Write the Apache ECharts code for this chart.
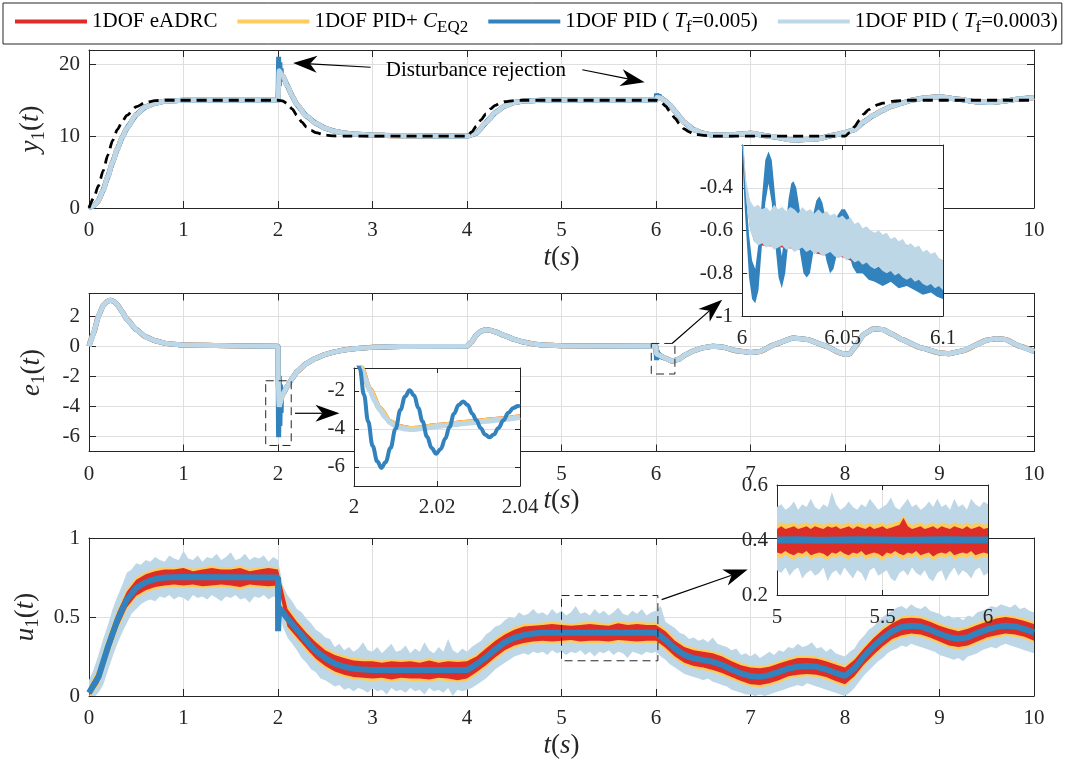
<!DOCTYPE html>
<html><head><meta charset="utf-8">
<script src="https://cdn.jsdelivr.net/npm/echarts@6/dist/echarts.min.js"></script>
<style>html,body{margin:0;padding:0;background:#fff}#c{width:1073px;height:760px}</style>
</head><body><div id="c"></div>
<script>
// ---------------- DATA ----------------
const seriesNames = ['1DOF eADRC', '1DOF PID+ C_EQ2', '1DOF PID ( T_f=0.005)', '1DOF PID ( T_f=0.0003)'];

// y1(t): reference (dashed) and outputs
const y1Ref = [[0,0],[0.05,1.4],[0.1,3.1],[0.15,5.2],[0.2,7.4],[0.25,9.4],[0.3,10.9],[0.35,12.0],[0.4,12.9],[0.5,14.1],[0.6,14.7],[0.7,14.95],[0.8,15],[2,15],[2.05,14.9],[2.1,14.5],[2.15,13.8],[2.2,12.9],[2.25,12.0],[2.3,11.3],[2.35,10.8],[2.4,10.5],[2.5,10.15],[2.6,10.03],[2.7,10],[4,10],[4.05,10.6],[4.1,11.4],[4.15,12.3],[4.2,13.1],[4.25,13.8],[4.3,14.3],[4.35,14.6],[4.4,14.8],[4.5,14.95],[4.6,15],[6,15],[6.05,14.8],[6.1,14.2],[6.15,13.4],[6.2,12.5],[6.25,11.7],[6.3,11.0],[6.35,10.6],[6.4,10.3],[6.5,10.1],[6.6,10],[8,10],[8.05,10.5],[8.1,11.3],[8.15,12.2],[8.2,13.1],[8.25,13.7],[8.3,14.1],[8.35,14.4],[8.4,14.6],[8.5,14.85],[8.6,14.95],[8.7,15],[10,15]];
const y1Out = [[0,0],[0.05,0.3],[0.1,1.0],[0.15,2.5],[0.2,4.4],[0.25,6.4],[0.3,8.2],[0.35,9.8],[0.4,11.1],[0.5,13.0],[0.6,14.1],[0.7,14.6],[0.8,14.85],[0.9,14.95],[1,15],[2,15],[2.012,19.1],[2.05,18.4],[2.1,17.0],[2.15,15.6],[2.2,14.4],[2.3,12.8],[2.4,11.8],[2.5,11.1],[2.6,10.7],[2.7,10.45],[2.8,10.3],[3,10.15],[3.3,10.05],[4,10],[4.1,10.4],[4.2,11.9],[4.3,13.3],[4.4,14.2],[4.5,14.7],[4.6,14.9],[4.8,15],[6,15],[6.01,15.4],[6.05,15.3],[6.1,14.9],[6.15,14.3],[6.2,13.5],[6.25,12.7],[6.3,11.9],[6.4,10.9],[6.5,10.4],[6.6,10.15],[6.8,10.2],[7,10.4],[7.2,10.0],[7.45,9.45],[7.7,9.6],[7.9,10.2],[8,10.5],[8.1,10.9],[8.2,12.0],[8.3,12.9],[8.4,13.6],[8.5,14.2],[8.6,14.6],[8.7,15.0],[8.85,15.35],[9,15.5],[9.2,15.15],[9.4,14.75],[9.55,14.7],[9.7,14.9],[9.85,15.2],[10,15.4]];
const y1BlueAt2 = [[2.0014,15.85],[2.0066,21.05],[2.0134,16.97],[2.0196,20.3],[2.0263,17.56],[2.0326,19.44],[2.0395,17.8]];
const y1BlueAt6 = [[6.0066,15.93],[6.0132,15.27],[6.0198,15.83],[6.0256,15.42],[6.0322,15.79],[6.0385,15.49],[6.0438,15.76]];

// e1(t)
const e1Out = [[0,0],[0.05,0.9],[0.1,2.0],[0.15,2.7],[0.2,3.0],[0.23,3.05],[0.27,2.95],[0.3,2.75],[0.35,2.3],[0.4,1.8],[0.5,1.1],[0.6,0.62],[0.7,0.36],[0.8,0.2],[0.9,0.12],[1,0.08],[1.5,0.03],[2,0],[2.002,-2.0],[2.006,-3.0],[2.009,-3.7],[2.0135,-4.02],[2.02,-3.85],[2.028,-3.68],[2.04,-3.38],[2.06,-3.1],[2.1,-2.65],[2.15,-2.15],[2.2,-1.7],[2.3,-1.15],[2.4,-0.8],[2.5,-0.55],[2.6,-0.38],[2.7,-0.25],[2.8,-0.17],[3,-0.08],[3.3,-0.03],[4,0],[4.05,0.3],[4.1,0.75],[4.15,1.0],[4.2,1.1],[4.25,1.05],[4.3,0.95],[4.4,0.7],[4.5,0.45],[4.6,0.27],[4.7,0.15],[4.8,0.08],[5,0.03],[6,0],[6.003,-0.5],[6.01,-0.6],[6.05,-0.65],[6.1,-0.8],[6.17,-1.0],[6.25,-0.85],[6.3,-0.6],[6.4,-0.3],[6.5,-0.1],[6.6,0],[6.7,-0.05],[6.85,-0.3],[7,-0.42],[7.1,-0.35],[7.25,0.1],[7.45,0.55],[7.6,0.45],[7.8,0.0],[7.95,-0.45],[8,-0.55],[8.05,-0.5],[8.1,-0.1],[8.2,0.8],[8.3,1.15],[8.4,1.1],[8.5,0.8],[8.6,0.45],[8.8,-0.1],[9,-0.45],[9.1,-0.5],[9.25,-0.3],[9.5,0.4],[9.6,0.5],[9.7,0.45],[9.85,0.0],[10,-0.35]];
const e1BlueAt2 = [[2.0008,-0.3],[2.0014,-0.85],[2.0024,-2.2],[2.0034,-3.6],[2.0045,-4.9],[2.0056,-5.7],[2.0066,-6.05],[2.0076,-5.75],[2.0088,-5.0],[2.01,-4.0],[2.0112,-3.0],[2.0123,-2.3],[2.0134,-1.97],[2.0145,-2.25],[2.0155,-2.9],[2.0165,-3.6],[2.0176,-4.4],[2.0187,-5.0],[2.0198,-5.3],[2.0209,-5.05],[2.022,-4.5],[2.023,-3.9],[2.0241,-3.2],[2.0252,-2.75],[2.0263,-2.56],[2.0274,-2.75],[2.0285,-3.2],[2.0295,-3.55],[2.0305,-3.95],[2.0316,-4.3],[2.0326,-4.44],[2.0337,-4.3],[2.0348,-3.95],[2.036,-3.55],[2.0372,-3.15],[2.0384,-2.9],[2.0395,-2.8],[2.04,-2.82]];
const e1BlueAt6 = [[6.0015,-0.45],[6.0066,-0.93],[6.0132,-0.27],[6.0198,-0.83],[6.0256,-0.42],[6.0322,-0.79],[6.0385,-0.49],[6.0438,-0.76],[6.0512,-0.55],[6.057,-0.72]];
// inset 2 (t = 2 .. 2.04)
const e1LightIn2 = [[2.0004,-0.3],[2.0018,-0.85],[2.0028,-1.4],[2.0038,-1.97],[2.005,-2.55],[2.0062,-3.0],[2.0075,-3.38],[2.0087,-3.68],[2.01,-3.85],[2.0111,-3.95],[2.0125,-4.01],[2.0135,-4.03],[2.015,-4.02],[2.0175,-3.95],[2.02,-3.87],[2.024,-3.78],[2.028,-3.69],[2.032,-3.6],[2.036,-3.5],[2.04,-3.4]];
const e1YellowIn2 = [[2.0004,-0.3],[2.0018,-0.8],[2.0038,-1.9],[2.0062,-2.92],[2.0087,-3.62],[2.0111,-3.89],[2.0135,-3.98],[2.015,-3.97],[2.02,-3.82],[2.028,-3.64],[2.036,-3.46],[2.04,-3.36]];
// inset 1 (t = 6 .. 6.1), noisy bands, light blue sampled every 0.002
const in1Step = 0.002;
const in1LightHi = [-.10,-.36,-.46,-.49,-.48,-.50,-.49,-.51,-.48,-.50, -.49,-.51,-.49,-.50,-.52,-.49,-.51,-.50,-.52,-.50, -.52,-.51,-.53,-.52,-.54,-.53,-.55,-.54,-.57,-.56, -.59,-.58,-.60,-.61,-.60,-.62,-.61,-.64,-.63,-.65, -.64,-.67,-.66,-.68,-.67,-.70,-.69,-.71,-.70,-.73, -.74];
const in1LightLo = [-.15,-.45,-.60,-.65,-.67,-.66,-.68,-.67,-.69,-.68, -.67,-.69,-.68,-.70,-.69,-.68,-.70,-.69,-.71,-.70, -.72,-.71,-.70,-.72,-.73,-.72,-.74,-.73,-.75,-.74, -.76,-.75,-.77,-.78,-.77,-.79,-.80,-.79,-.81,-.80, -.82,-.83,-.82,-.84,-.83,-.85,-.86,-.85,-.87,-.86, -.88];
const in1RedT  = [6,6.002,6.004,6.006,6.01,6.02,6.03,6.04,6.05,6.06,6.07,6.08,6.09,6.1];
const in1RedHi = [-0.12,-0.38,-0.47,-0.50,-0.52,-0.51,-0.52,-0.53,-0.55,-0.6,-0.63,-0.66,-0.7,-0.74];
const in1RedLo = [-0.16,-0.44,-0.59,-0.65,-0.67,-0.68,-0.69,-0.715,-0.725,-0.765,-0.795,-0.825,-0.855,-0.885];
const in1BlueT  = [6.000,6.0015,6.0035,6.0050,6.0066,6.0082,6.0100,6.0116,6.0132,6.0148,6.0165,6.0182,6.0198,6.0215,6.0232,6.0245,6.0256,6.0270,6.0290,6.0306,6.0322,6.0338,6.0355,6.0370,6.0385,6.0400,6.0420,6.0438,6.0455,6.0475,6.0495,6.0512,6.0530,6.0550,6.0570,6.0600,6.0630,6.0660,6.0700,6.0720,6.0740,6.0780,6.0820,6.0860,6.0900,6.0940,6.0970,6.1000];
const in1BlueHi = [-0.10,-0.36,-0.62,-0.74,-0.78,-0.66,-0.44,-0.27,-0.23,-0.27,-0.44,-0.62,-0.72,-0.60,-0.45,-0.38,-0.37,-0.40,-0.52,-0.63,-0.68,-0.62,-0.52,-0.46,-0.44,-0.47,-0.56,-0.64,-0.60,-0.53,-0.50,-0.50,-0.53,-0.58,-0.62,-0.63,-0.65,-0.67,-0.69,-0.70,-0.72,-0.73,-0.75,-0.77,-0.78,-0.80,-0.81,-0.82];
const in1BlueLo = [-0.22,-0.52,-0.82,-0.92,-0.94,-0.88,-0.66,-0.47,-0.38,-0.47,-0.66,-0.82,-0.87,-0.80,-0.64,-0.55,-0.51,-0.57,-0.71,-0.80,-0.82,-0.80,-0.70,-0.62,-0.58,-0.64,-0.74,-0.80,-0.78,-0.70,-0.66,-0.64,-0.70,-0.77,-0.80,-0.80,-0.83,-0.84,-0.86,-0.85,-0.84,-0.87,-0.86,-0.88,-0.90,-0.89,-0.91,-0.92];

// u1(t): noisy envelopes. light blue every 0.05 s, red / yellow every 0.1 s
const uLightStep = 0.05;
const uLightHi = [.10,.17,.26,.36,.45,.55,.63,.70,.78,.80, .84,.83,.86,.85,.88,.86,.85,.89,.87,.86, .92,.87,.86,.89,.85,.88,.87,.90,.86,.88, .91,.86,.87,.90,.86,.88,.87,.89,.85,.88, .86,.70,.64,.60,.55,.53,.49,.46,.42,.40, .37,.36,.31,.33,.29,.31,.28,.30,.34,.29, .28,.31,.27,.30,.33,.28,.29,.32,.27,.30, .28,.34,.29,.27,.31,.28,.36,.29,.27,.30, .28,.31,.33,.35,.39,.41,.44,.45,.48,.50, .49,.53,.51,.52,.55,.52,.53,.51,.55,.52, .54,.51,.53,.57,.52,.53,.51,.55,.52,.54, .51,.53,.56,.52,.51,.54,.52,.55,.51,.53, .54,.57,.47,.45,.43,.40,.39,.36,.37,.35, .36,.34,.37,.33,.32,.31,.29,.30,.26,.27, .25,.27,.24,.26,.28,.26,.29,.28,.31,.30, .33,.31,.32,.34,.30,.31,.28,.30,.27,.26, .25,.28,.30,.35,.38,.42,.44,.47,.50,.52, .54,.56,.57,.55,.58,.56,.55,.57,.54,.53, .52,.50,.51,.49,.50,.48,.51,.50,.53,.54, .55,.57,.56,.58,.57,.56,.58,.55,.56,.54, .53];
const uLightLo = [-.02,-.01,.02,.07,.16,.25,.33,.40,.46,.52, .55,.58,.60,.61,.60,.63,.62,.64,.61,.63, .62,.60,.64,.62,.63,.61,.64,.62,.60,.63, .62,.64,.61,.62,.59,.63,.62,.64,.61,.63, .62,.44,.37,.33,.29,.24,.21,.17,.15,.11, .10,.08,.06,.07,.04,.05,.03,.05,.04,.02, .05,.03,.04,.01,.05,.03,.04,.02,.05,.03, .04,.01,.05,.03,.04,.02,.05,.00,.04,.03, .04,.05,.07,.09,.11,.14,.17,.19,.21,.23, .25,.26,.27,.26,.28,.27,.28,.26,.29,.27, .28,.26,.28,.27,.29,.26,.28,.25,.28,.27, .29,.26,.28,.27,.24,.28,.27,.26,.28,.27, .28,.25,.23,.20,.18,.16,.14,.13,.12,.11, .10,.11,.09,.08,.07,.06,.04,.03,.02,.01, .01,.00,.01,.00,.01,.02,.03,.04,.05,.06, .07,.06,.08,.07,.06,.05,.04,.03,.02,.01, .00,.02,.05,.09,.13,.16,.19,.22,.24,.27, .29,.30,.32,.31,.33,.32,.31,.30,.29,.28, .26,.25,.24,.23,.24,.22,.25,.26,.27,.29, .30,.31,.30,.32,.33,.32,.31,.30,.29,.28, .27];
const uBandStep = 0.1;
const uRedHi = [.05,.16,.36,.53,.66,.735,.77,.79,.80,.80, .81,.79,.80,.81,.80,.80,.81,.79,.80,.81, .80,.55,.47,.40,.34,.29,.26,.24,.225,.22, .22,.21,.22,.215,.22,.21,.225,.21,.22,.215, .22,.25,.30,.35,.39,.42,.44,.445,.45,.455, .45,.445,.45,.455,.45,.445,.46,.45,.455,.45, .45,.41,.35,.31,.29,.28,.27,.25,.22,.195, .18,.175,.185,.205,.225,.24,.24,.235,.22,.20, .18,.23,.30,.365,.42,.46,.49,.495,.49,.47, .445,.425,.41,.425,.45,.47,.49,.50,.49,.475, .455];
const uRedLo = [.00,.08,.26,.43,.56,.635,.67,.69,.70,.705, .70,.705,.695,.70,.705,.70,.69,.705,.70,.695, .70,.44,.37,.30,.235,.19,.155,.135,.12,.115, .11,.115,.105,.115,.11,.11,.105,.115,.11,.10, .11,.15,.195,.245,.29,.32,.335,.345,.35,.345, .35,.355,.345,.35,.35,.345,.355,.35,.345,.35, .35,.305,.25,.21,.19,.18,.165,.145,.12,.095, .075,.07,.08,.10,.125,.135,.14,.135,.12,.095, .075,.125,.20,.26,.315,.36,.385,.395,.39,.37, .345,.32,.31,.32,.345,.37,.385,.395,.39,.375, .35];
const uYelHi = [.06,.18,.38,.545,.675,.75,.785,.805,.815,.815, .82,.805,.815,.825,.815,.815,.825,.805,.815,.82, .815,.57,.485,.415,.355,.305,.275,.255,.24,.235, .235,.225,.235,.23,.235,.225,.24,.225,.235,.23, .235,.265,.315,.365,.405,.435,.455,.46,.465,.47, .465,.46,.465,.47,.465,.46,.475,.465,.47,.465, .465,.425,.365,.325,.305,.295,.285,.265,.235,.21, .195,.19,.20,.22,.24,.255,.255,.25,.235,.215, .195,.245,.315,.38,.435,.475,.505,.51,.505,.485, .46,.44,.425,.44,.465,.485,.505,.515,.505,.49, .47];
const uYelLo = [-.01,.065,.245,.415,.545,.62,.655,.675,.685,.69, .685,.69,.68,.685,.69,.685,.675,.69,.685,.68, .685,.425,.355,.285,.22,.175,.14,.12,.105,.10, .095,.10,.09,.10,.095,.095,.09,.10,.095,.085, .095,.135,.18,.23,.275,.305,.32,.33,.335,.33, .335,.34,.33,.335,.335,.33,.34,.335,.33,.335, .335,.29,.235,.195,.175,.165,.15,.13,.105,.08, .06,.055,.065,.085,.11,.12,.125,.12,.105,.08, .06,.11,.185,.245,.30,.345,.37,.38,.375,.355, .33,.305,.295,.305,.33,.355,.37,.38,.375,.36, .335];
const uBlue = [[0,0.02],[0.1,0.12],[0.2,0.31],[0.3,0.48],[0.4,0.61],[0.5,0.685],[0.6,0.72],[0.7,0.74],[0.8,0.75],[1,0.753],[1.5,0.752],[2,0.75],[2.001,0.41],[2.012,0.56],[2.05,0.53],[2.1,0.49],[2.2,0.42],[2.3,0.35],[2.4,0.285],[2.5,0.24],[2.6,0.205],[2.7,0.185],[2.8,0.173],[2.9,0.167],[3,0.164],[4,0.164],[4.1,0.2],[4.2,0.245],[4.3,0.295],[4.4,0.34],[4.5,0.368],[4.6,0.386],[4.7,0.396],[4.8,0.4],[6,0.4],[6.1,0.355],[6.2,0.3],[6.3,0.26],[6.4,0.238],[6.5,0.228],[6.6,0.217],[6.7,0.196],[6.8,0.168],[6.9,0.143],[7,0.126],[7.1,0.121],[7.2,0.132],[7.3,0.153],[7.4,0.174],[7.5,0.185],[7.6,0.19],[7.7,0.185],[7.8,0.168],[7.9,0.147],[8,0.128],[8.1,0.175],[8.2,0.25],[8.3,0.313],[8.4,0.366],[8.5,0.41],[8.6,0.436],[8.7,0.445],[8.8,0.44],[8.9,0.42],[9,0.394],[9.1,0.372],[9.2,0.362],[9.3,0.372],[9.4,0.398],[9.5,0.42],[9.6,0.436],[9.7,0.445],[9.8,0.44],[9.9,0.423],[10,0.402]];
// inset 3 (t = 5 .. 6), sampled every 0.02
const in3Step = 0.02;
const in3LightHi = [.52,.53,.51,.52,.54,.51,.53,.52,.55,.52, .51,.53,.52,.575,.53,.51,.52,.54,.52,.51, .53,.52,.55,.53,.51,.52,.53,.555,.52,.51, .53,.55,.52,.53,.51,.52,.54,.52,.55,.52, .53,.51,.55,.52,.53,.51,.55,.53,.52,.54, .53];
const in3LightLo = [.29,.28,.30,.27,.29,.30,.26,.28,.29,.27, .28,.30,.25,.28,.29,.27,.30,.28,.26,.29, .28,.25,.29,.30,.27,.28,.29,.26,.25,.28, .29,.27,.30,.28,.27,.29,.26,.25,.28,.29, .25,.28,.30,.27,.29,.28,.26,.29,.30,.27, .28];
const in3RedHi = [.44,.45,.44,.445,.45,.44,.445,.45,.44,.45, .445,.44,.45,.445,.45,.44,.445,.45,.44,.45, .445,.44,.45,.44,.445,.45,.44,.445,.45,.455, .48,.45,.44,.445,.45,.44,.445,.45,.44,.45, .445,.44,.45,.445,.44,.45,.44,.445,.45,.44, .445];
const in3RedLo = [.355,.35,.36,.35,.345,.355,.35,.36,.345,.35, .355,.35,.34,.355,.35,.36,.35,.345,.355,.35, .36,.345,.35,.355,.35,.34,.355,.35,.36,.35, .345,.355,.35,.36,.345,.35,.355,.34,.35,.355, .35,.36,.345,.35,.355,.35,.36,.345,.35,.355, .35];
const in3YelHi = [.455,.465,.46,.46,.465,.455,.46,.465,.455,.465, .46,.455,.465,.46,.465,.455,.46,.465,.455,.465, .46,.455,.465,.455,.46,.465,.455,.46,.465,.47, .49,.465,.455,.46,.465,.455,.46,.465,.455,.465, .46,.455,.465,.46,.455,.465,.455,.46,.465,.455, .46];
const in3YelLo = [.34,.335,.345,.335,.33,.34,.335,.345,.33,.335, .34,.335,.325,.34,.335,.345,.335,.33,.34,.335, .345,.33,.335,.34,.335,.325,.34,.335,.345,.335, .33,.34,.335,.345,.33,.335,.34,.325,.335,.34, .335,.345,.33,.335,.34,.335,.345,.33,.335,.34, .335];
const in3Blue = [[5,0.4],[5.1,0.401],[5.2,0.399],[5.3,0.4],[5.4,0.401],[5.5,0.4],[5.6,0.399],[5.7,0.4],[5.8,0.401],[5.9,0.4],[6,0.4]];

// annotations (data coordinates of the panel they sit in)
const arrows = [
  {x:0, y:0, from:[2.98,19.6], to:[2.16,20.2]},
  {x:0, y:0, from:[5.22,19.25], to:[5.88,17.5]},
  {x:2, y:2, from:[2.18,-4.46], to:[2.65,-4.46]},
  {x:2, y:2, from:[6.17,0.18], to:[6.70,3.09]},
  {x:4, y:4, from:[6.06,0.61], to:[6.97,0.80]}
];
const zoomBoxes = [
  {x:2, y:2, t:[1.87,2.14], v:[-6.6,-2.3]},
  {x:2, y:2, t:[5.95,6.2], v:[-1.85,0.18]},
  {x:4, y:4, t:[5.0,6.02], v:[0.223,0.636]}
];
const annotText = {x:0, y:0, at:[3.14,19.2], text:'Disturbance rejection'};

// ---------------- CHART ----------------
const FONT = 'Liberation Serif';
const AX = '#262626', GL = '#DFDFDF';
const COL = ['#DE2D26', '#FECC5C', '#3182BD', '#BDD7E7'];
const RICH = {
  i:{fontFamily:FONT, fontSize:27, fontStyle:'italic', color:AX},
  n:{fontFamily:FONT, fontSize:27, color:AX},
  s:{fontFamily:FONT, fontSize:19, color:AX, padding:[15,0,0,0]}
};
const TRICH = {a:{fontFamily:FONT, fontSize:21, color:AX}};
const LRICH = {
  n:{fontFamily:FONT, fontSize:21, color:'#000'},
  i:{fontFamily:FONT, fontSize:21, fontStyle:'italic', color:'#000'},
  s:{fontFamily:FONT, fontSize:17, color:'#000', padding:[12,0,0,0]}
};
const legendText = {
  '1DOF eADRC':'{n|1DOF eADRC}',
  '1DOF PID+ C_EQ2':'{n|1DOF PID+ }{i|C}{s|EQ2}',
  '1DOF PID ( T_f=0.005)':'{n|1DOF PID ( }{i|T}{s|f}{n|=0.005)}',
  '1DOF PID ( T_f=0.0003)':'{n|1DOF PID ( }{i|T}{s|f}{n|=0.0003)}'
};

const grids = [
  {left:89, top:50, width:945, height:158},
  {left:89, top:293.5, width:945, height:158},
  {left:89, top:538, width:945, height:158},
  {left:742, top:145, width:201, height:171, z:10, show:true, backgroundColor:'#fff', borderWidth:0},
  {left:354, top:368, width:166, height:118, z:10, show:true, backgroundColor:'#fff', borderWidth:0},
  {left:777, top:485, width:211, height:110, z:10, show:true, backgroundColor:'#fff', borderWidth:0}
];

function allowFmt(list) {
  return v => { const a = list.find(q => Math.abs(q - v) < 1e-9); return a === undefined ? '' : '{a|' + String(a) + '}'; };
}
const xAxes = [], yAxes = [];
function addAxes(g, xo, yo, z, tick) {
  const line = {onZero:false, lineStyle:{color:AX, width:1}};
  const tk = {inside:true, length:tick, lineStyle:{color:AX}};
  const lab = (m, f) => ({fontFamily:FONT, fontSize:21, color:AX, margin:m, formatter:f, rich:TRICH});
  xAxes.push({type:'value', gridIndex:g, position:'bottom', z, min:xo.min, max:xo.max, interval:xo.interval,
    axisLine:line, axisTick:tk, axisLabel:lab(xo.margin, xo.fmt), splitLine:{show:true, lineStyle:{color:GL}},
    name:xo.name || '', nameLocation:'middle', nameGap:xo.nameGap || 0, nameTextStyle:{rich:RICH}});
  xAxes.push({type:'value', gridIndex:g, position:'top', z, min:xo.min, max:xo.max, interval:xo.interval,
    axisLine:line, axisTick:tk, axisLabel:{show:false}, splitLine:{show:false}});
  yAxes.push({type:'value', gridIndex:g, position:'left', z, min:yo.min, max:yo.max, interval:yo.interval, splitNumber:yo.split,
    axisLine:line, axisTick:tk, axisLabel:lab(yo.margin, yo.fmt), splitLine:{show:true, lineStyle:{color:GL}},
    name:yo.name || '', nameLocation:'middle', nameGap:yo.nameGap || 0, nameRotate:90, nameTextStyle:{rich:RICH}});
  yAxes.push({type:'value', gridIndex:g, position:'right', z, min:yo.min, max:yo.max, interval:yo.interval, splitNumber:yo.split,
    axisLine:line, axisTick:tk, axisLabel:{show:false}, splitLine:{show:false}});
}
const tName = '{i|t}{n|(}{i|s}{n|)}';
const xMain = [0,1,2,3,4,5,6,7,8,9,10];
addAxes(0, {min:0,max:10,interval:1,margin:12,fmt:allowFmt(xMain),name:tName,nameGap:36},
           {min:0,max:22,interval:10,margin:9,fmt:allowFmt([0,10,20]),name:'{i|y}{s|1}{n|(}{i|t}{n|)}',nameGap:40}, 0, 7);
addAxes(1, {min:0,max:10,interval:1,margin:12,fmt:allowFmt(xMain),name:tName,nameGap:36},
           {min:-7,max:3.5,split:5,margin:9,fmt:allowFmt([-6,-4,-2,0,2]),name:'{i|e}{s|1}{n|(}{i|t}{n|)}',nameGap:40}, 0, 7);
addAxes(2, {min:0,max:10,interval:1,margin:12,fmt:allowFmt(xMain),name:tName,nameGap:36},
           {min:0,max:1,interval:0.5,margin:9,fmt:allowFmt([0,0.5,1]),name:'{i|u}{s|1}{n|(}{i|t}{n|)}',nameGap:40}, 0, 7);
addAxes(3, {min:6,max:6.1,interval:0.05,margin:12,fmt:allowFmt([6,6.05,6.1])},
           {min:-1,max:-0.2,interval:0.2,margin:9,fmt:allowFmt([-1,-0.8,-0.6,-0.4])}, 11, 5);
addAxes(4, {min:2,max:2.04,interval:0.02,margin:11,fmt:allowFmt([2,2.02,2.04])},
           {min:-7,max:-0.8,split:3,margin:9,fmt:allowFmt([-6,-4,-2])}, 11, 5);
addAxes(5, {min:5,max:6,interval:0.5,margin:12,fmt:allowFmt([5,5.5,6])},
           {min:0.2,max:0.6,interval:0.2,margin:9,fmt:allowFmt([0.2,0.4,0.6])}, 11, 5);

function line(name, color, ax, data, width, z, extra) {
  return Object.assign({type:'line', name, xAxisIndex:ax, yAxisIndex:ax, data, showSymbol:false, symbol:'none',
    smooth:0.25, smoothMonotone:'x', z, silent:true, animation:false,
    lineStyle:{color, width}, itemStyle:{color}}, extra || {});
}
function times(t0, step, n) { const out = []; for (let i = 0; i < n; i++) out.push(+(t0 + i*step).toFixed(6)); return out; }
function band(name, color, ax, ts, lo, hi, z) {
  return {type:'custom', name, xAxisIndex:ax, yAxisIndex:ax, z, clip:true, silent:true, animation:false,
    itemStyle:{color}, data:[[ts[0], lo[0]]],
    renderItem:(params, api) => {
      const pts = [];
      for (let i = 0; i < ts.length; i++) pts.push(api.coord([ts[i], hi[i]]));
      for (let i = ts.length - 1; i >= 0; i--) pts.push(api.coord([ts[i], lo[i]]));
      return {type:'polygon', shape:{points:pts}, style:{fill:color}};
    }};
}
function merge(base, extra, ranges) {
  return base.filter(p => !ranges.some(r => p[0] > r[0] && p[0] < r[1])).concat(extra).sort((a, b) => a[0] - b[0]);
}
const [N0, N1, N2, N3] = seriesNames;
const tL = times(0, uLightStep, uLightHi.length), tB = times(0, uBandStep, uRedHi.length);
const t1 = times(6, in1Step, in1LightHi.length), t3 = times(5, in3Step, in3LightHi.length);

const series = [
  // y1
  line(N0, COL[0], 0, y1Out, 5, 2),
  line(N1, COL[1], 0, y1Out, 5, 2),
  line(N2, COL[2], 0, merge(y1Out, y1BlueAt2.concat(y1BlueAt6), [[2,2.05],[6,6.05]]), 5, 2, {smooth:false}),
  line(N3, COL[3], 0, y1Out, 5, 2),
  line('Reference', '#000', 0, y1Ref, 2.8, 3, {lineStyle:{color:'#000', width:2.8, type:[10,6]}}),
  // e1
  line(N0, COL[0], 2, e1Out, 5, 2),
  line(N1, COL[1], 2, e1Out, 5, 2),
  line(N2, COL[2], 2, merge(e1Out, e1BlueAt2.concat(e1BlueAt6), [[2,2.041],[6,6.06]]), 5, 2, {smooth:false}),
  line(N3, COL[3], 2, e1Out, 5, 2, {smooth:false}),
  // u1
  band(N3, COL[3], 4, tL, uLightLo, uLightHi, 2),
  band(N1, COL[1], 4, tB, uYelLo, uYelHi, 2),
  band(N0, COL[0], 4, tB, uRedLo, uRedHi, 2),
  line(N2, COL[2], 4, uBlue, 6, 3, {smooth:false}),
  // inset 1
  band(N0, COL[0], 6, in1RedT, in1RedLo, in1RedHi, 12),
  band(N2, COL[2], 6, in1BlueT, in1BlueLo, in1BlueHi, 12),
  band(N3, COL[3], 6, t1, in1LightLo, in1LightHi, 12),
  // inset 2
  line(N0, COL[0], 8, e1YellowIn2, 5, 12),
  line(N1, COL[1], 8, e1YellowIn2, 5, 12),
  line(N3, COL[3], 8, e1LightIn2, 5, 12),
  line(N2, COL[2], 8, e1BlueAt2, 4, 12, {smooth:0.4}),
  // inset 3
  band(N3, COL[3], 10, t3, in3LightLo, in3LightHi, 12),
  band(N1, COL[1], 10, t3, in3YelLo, in3YelHi, 12),
  band(N0, COL[0], 10, t3, in3RedLo, in3RedHi, 12),
  line(N2, COL[2], 10, in3Blue, 7, 12, {smooth:false})
];

const chart = echarts.init(document.getElementById('c'), null, {renderer:'canvas', width:1073, height:760});
chart.setOption({
  animation:false,
  backgroundColor:'#fff',
  textStyle:{fontFamily:FONT},
  grid:grids, xAxis:xAxes, yAxis:yAxes, series,
  legend:{
    left:3, top:3, itemGap:20, itemWidth:72, itemHeight:4, padding:[8,4,8,12],
    borderColor:AX, borderWidth:1, backgroundColor:'#fff', selectedMode:false,
    data:seriesNames.map(n => ({name:n, icon:'rect'})),
    formatter:n => legendText[n],
    textStyle:{fontFamily:FONT, fontSize:21, color:'#000', rich:LRICH}
  }
});

// annotations via the axes' own coordinate conversion
const P = (xi, yi, pt) => chart.convertToPixel({xAxisIndex:xi, yAxisIndex:yi}, pt);
const gfx = [];
arrows.forEach(a => {
  const p0 = P(a.x, a.y, a.from), p1 = P(a.x, a.y, a.to);
  const dx = p1[0]-p0[0], dy = p1[1]-p0[1], len = Math.hypot(dx, dy);
  const ux = dx/len, uy = dy/len, nx = -uy, ny = ux;
  const L = 24, W = 8.5, N = 7;
  const bx = p1[0]-ux*L, by = p1[1]-uy*L, mx = p1[0]-ux*(L-N), my = p1[1]-uy*(L-N);
  gfx.push({type:'line', silent:true, z:30, shape:{x1:p0[0], y1:p0[1], x2:mx, y2:my}, style:{stroke:'#000', lineWidth:1.2}});
  gfx.push({type:'polygon', silent:true, z:30, shape:{points:[[p1[0],p1[1]],[bx+nx*W,by+ny*W],[mx,my],[bx-nx*W,by-ny*W]]}, style:{fill:'#000'}});
});
zoomBoxes.forEach(b => {
  const a = P(b.x, b.y, [b.t[0], b.v[1]]), c = P(b.x, b.y, [b.t[1], b.v[0]]);
  gfx.push({type:'rect', silent:true, z:30, shape:{x:a[0], y:a[1], width:c[0]-a[0], height:c[1]-a[1]},
    style:{fill:'none', stroke:'#262626', lineWidth:1, lineDash:[8,5]}});
});
const tp = P(annotText.x, annotText.y, annotText.at);
gfx.push({type:'text', silent:true, z:30, x:tp[0], y:tp[1],
  style:{text:annotText.text, fontFamily:FONT, fontSize:21, fill:'#000', verticalAlign:'middle', align:'left'}});
chart.setOption({graphic:gfx});
</script></body></html>
